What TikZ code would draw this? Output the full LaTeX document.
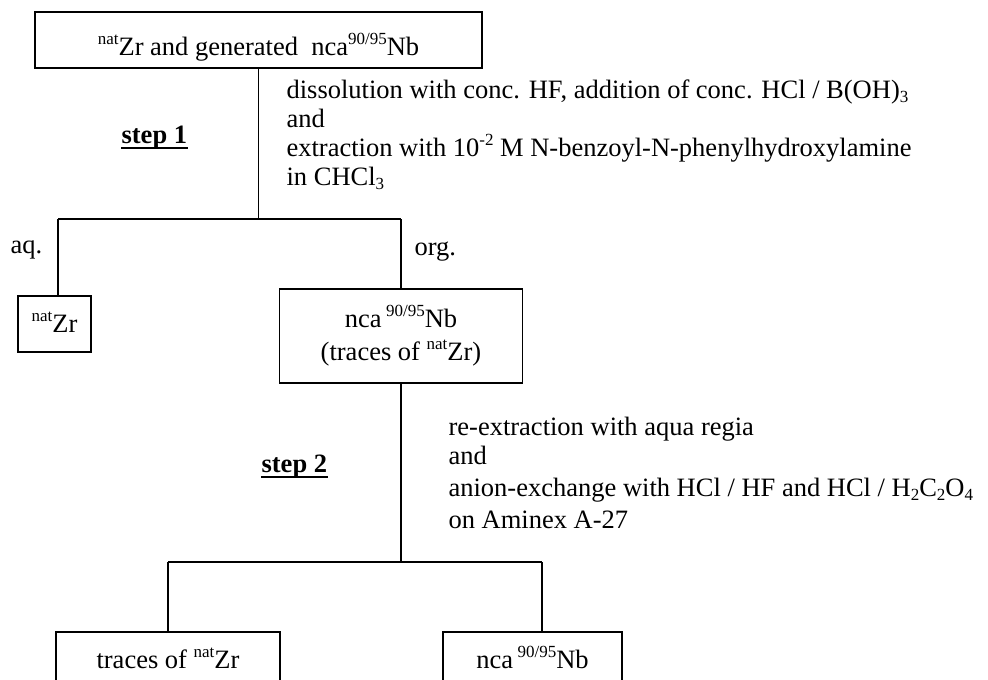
\documentclass[tikz,border=0pt]{standalone}
\usepackage{fontspec}
\setmainfont{Liberation Serif}
\newcommand\sups[1]{\raisebox{11pt}{\fontsize{17}{17}\selectfont #1}}
\newcommand\subs[1]{\raisebox{-4.5pt}{\fontsize{17}{17}\selectfont #1}}
\begin{document}
\begin{tikzpicture}[x=1pt,y=-1pt, line width=1.2pt,
  box/.style={draw, line width=1.2pt, inner sep=0pt, align=center, font=\fontsize{26.5}{33}\selectfont},
  txt/.style={anchor=base west, inner sep=0pt, font=\fontsize{26.5}{30}\selectfont},
  steplbl/.style={anchor=base west, inner sep=0pt, font=\fontsize{26.5}{30}\selectfont\bfseries}]
\useasboundingbox (0,0) rectangle (988,680);
% boxes
\node[box, minimum width=447pt, minimum height=56pt, text height=30pt, text depth=0pt] (top) at (258.5,40)
  {\sups{nat}Zr and generated\ \ nca\sups{90/95}Nb};
\node[box, minimum width=73pt, minimum height=56pt, text height=20pt, text depth=4pt] (zr) at (54.5,324)
  {\sups{nat}Zr};
\node[box, minimum width=243pt, minimum height=94pt] (mid) at (401,336)
  {nca\,\sups{90/95}Nb\\(traces of \sups{nat}Zr)};
\node[box, minimum width=224pt, minimum height=60pt, text height=18pt, text depth=6pt] (bl) at (168,662)
  {traces of \sups{nat}Zr};
\node[box, minimum width=179pt, minimum height=60pt, text height=18pt, text depth=6pt] (br) at (532.5,662)
  {nca\,\sups{90/95}Nb};
% step labels
\node[steplbl] (s1) at (121,143) {step 1};
\node[steplbl] (s2) at (261,472) {step 2};
\draw[line width=1.3pt] ([yshift=-5pt]s1.base west) -- ([yshift=-5pt]s1.base east);
\draw[line width=1.3pt] ([yshift=-5pt]s2.base west) -- ([yshift=-5pt]s2.base east);
% step 1 description
\node[txt] (a1) at (286,98) {dissolution with conc. HF, addition of conc. HCl / B(OH)\subs{3}};
\node[txt] (a2) at (286,127) {and};
\node[txt] (a3) at (286,156) {extraction with 10\sups{-2} M N-benzoyl-N-phenylhydroxylamine};
\node[txt] (a4) at (286,185) {in CHCl\subs{3}};
% step 2 description
\node[txt] (b1) at (448,435) {re-extraction with aqua regia};
\node[txt] (b2) at (448,464) {and};
\node[txt] (b3) at (448,496) {anion-exchange with HCl / HF and HCl / H\subs{2}C\subs{2}O\subs{4}};
\node[txt] (b4) at (448,528) {on Aminex A-27};
% phase labels
\node[txt] (aq) at (10,253) {aq.};
\node[txt] (org) at (414,255) {org.};
% connectors
\coordinate (aL) at (58,219);
\coordinate (oR) at (401,219);
\draw (top.south) -- (top.south |- aL);
\draw (aL) -- (oR);
\draw (aL) -- (aL |- zr.north);
\draw (oR) -- (mid.north);
\coordinate (bL) at (168,562);
\coordinate (bR) at (542,562);
\draw (mid.south) -- (mid.south |- bL);
\draw (bL) -- (bR);
\draw (bL) -- (bl.north);
\draw (bR) -- (bR |- br.north);
\end{tikzpicture}
\end{document}
